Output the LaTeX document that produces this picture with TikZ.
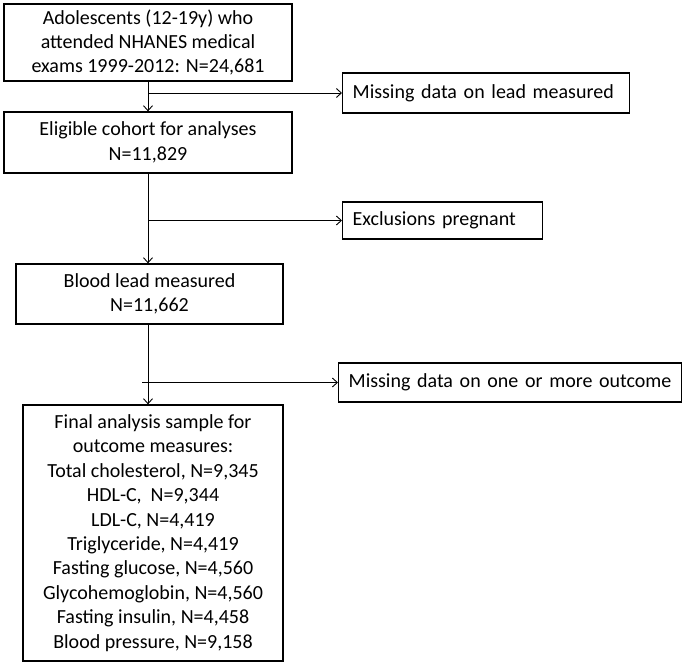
\documentclass[tikz,border=0pt]{standalone}
\usepackage{fontspec}
\setmainfont{Carlito}
\usetikzlibrary{arrows.meta}
\begin{document}
\begin{tikzpicture}[x=1pt,y=1pt,
    font=\fontsize{20}{24.4}\selectfont,
    mainbox/.style={draw, line width=1.3pt, align=center, inner sep=0pt,
        minimum width=#1},
    sidebox/.style={draw, line width=1.3pt, align=left, anchor=west,
        inner xsep=10pt, inner ysep=0pt, text width=#1},
    flow/.style={line width=0.9pt, -{Straight Barb[length=5pt,width=9pt]}}]
    \useasboundingbox (0,0) rectangle (685,-666);

    \node[mainbox=288pt, minimum height=77pt] (adol) at (148,-42.5)
        {Adolescents (12-19y) who\\attended NHANES medical\\exams 1999-2012: N=24,681};
    \node[mainbox=288pt, minimum height=61pt] (elig) at (148,-142.5)
        {Eligible cohort for analyses\\N=11,829};
    \node[mainbox=267pt, minimum height=60pt] (blood) at (149.5,-294)
        {Blood lead measured\\N=11,662};
    \node[mainbox=260pt, minimum height=256pt] (final) at (153,-533)
        {Final analysis sample for\\outcome measures:\\Total cholesterol, N=9,345\\
         HDL-C,\ \ N=9,344\\LDL-C, N=4,419\\Triglyceride, N=4,419\\
         Fasting glucose, N=4,560\\Glycohemoglobin, N=4,560\\
         Fasting insulin, N=4,458\\Blood pressure, N=9,158};

    \node[sidebox=267pt, minimum height=40pt] (lead) at (342,-93)
        {Missing data on lead measured};
    \node[sidebox=180pt, minimum height=37pt] (preg) at (342,-220.5)
        {Exclusions pregnant};
    \node[sidebox=323pt, minimum height=39pt] (outc) at (338,-382.5)
        {Missing data on one or more outcome};

    \draw[flow] (adol.south) -- (elig.north);
    \draw[flow] (adol.south |- lead.west) -- (lead.west);
    \draw[flow] (elig.south) -- (elig.south |- blood.north);
    \draw[flow] (elig.south |- preg.west) -- (preg.west);
    \draw[flow] (elig.south |- blood.south) -- (elig.south |- final.north);
    \draw[flow] ([xshift=-6pt]elig.south |- outc.west) -- (outc.west);
\end{tikzpicture}
\end{document}
